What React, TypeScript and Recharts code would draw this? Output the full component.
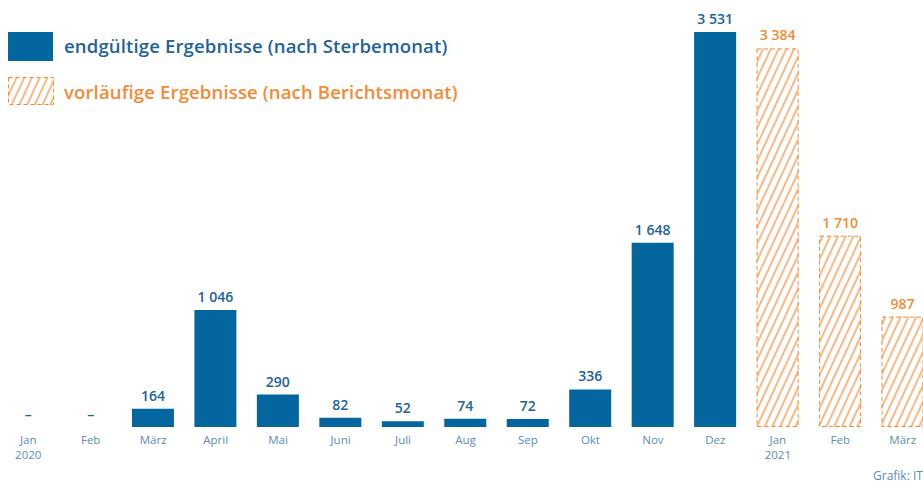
import { BarChart, Bar, XAxis, YAxis, LabelList } from "recharts";

const categories = ["Jan\n2020", "Feb", "März", "April", "Mai", "Juni", "Juli", "Aug", "Sep", "Okt", "Nov", "Dez", "Jan\n2021", "Feb", "März"];
const finalValues = [null, null, 164, 1046, 290, 82, 52, 74, 72, 336, 1648, 3531, null, null, null];
const provisionalValues = [null, null, null, null, null, null, null, null, null, null, null, null, 3384, 1710, 987];

const data = categories.map((c, i) => ({ cat: c, final: finalValues[i], provisional: provisionalValues[i] }));

const BLUE = "#04669E";
const ORANGE = "#F58A34";
const FONT = "'Open Sans', Roboto, sans-serif";

const fmt = (n: number) => String(n).replace(/\B(?=(\d{3})+(?!\d))/g, " ");

function Tick(props: any) {
  const { x, y, payload } = props;
  const lines = String(payload.value).split("\n");
  const i = payload.index;
  const empty = finalValues[i] == null && provisionalValues[i] == null;
  return (
    <g>
      {empty && (
        <text x={x} y={y - 16} textAnchor="middle" fill="#1D639A" fontSize={14} fontWeight={600} fontFamily={FONT}>–</text>
      )}
      {lines.map((l, k) => (
        <text key={k} x={x} y={y + 9 + k * 15} textAnchor="middle" fill="#5A8DB8" fontSize={11.5} fontFamily={FONT}>{l}</text>
      ))}
    </g>
  );
}

function HatchBar(props: any) {
  const { x, y, width, height } = props;
  if (!height || height <= 0) return null;
  return (
    <g>
      <rect x={x} y={y} width={width} height={height} fill="url(#hatch)" />
      <rect x={x + 0.5} y={y + 0.5} width={width - 1} height={height - 1} fill="none" stroke={ORANGE} strokeWidth={1} strokeDasharray="4 3" />
    </g>
  );
}

function makeLabel(color: string) {
  return (props: any) => {
    const { x, y, width, value } = props;
    if (value == null) return null;
    return (
      <text x={x + width / 2} y={y - 8} textAnchor="middle" fill={color} fontSize={14} fontWeight={600} fontFamily={FONT}>
        {fmt(Number(value))}
      </text>
    );
  };
}

export default function App() {
  return (
    <div style={{ position: "fixed", left: 0, top: 0, width: 923, height: 481, overflow: "hidden", background: "#fff", fontFamily: FONT }}>
      <div style={{ position: "absolute", left: -3, top: 0 }}>
        <BarChart width={937} height={481} data={data} margin={{ top: 32, right: 0, bottom: 0, left: 0 }}>
          <defs>
            <pattern id="hatch" patternUnits="userSpaceOnUse" width={7} height={7} patternTransform="rotate(25)">
              <line x1={1} y1={0} x2={1} y2={7} stroke={ORANGE} strokeWidth={1.2} />
            </pattern>
          </defs>
          <XAxis dataKey="cat" axisLine={false} tickLine={false} height={54} interval={0} tick={<Tick />} />
          <YAxis hide domain={[0, 3531]} width={0} />
          <Bar dataKey="final" stackId="s" fill={BLUE} barSize={42} isAnimationActive={false}>
            <LabelList dataKey="final" content={makeLabel("#1D639A")} />
          </Bar>
          <Bar dataKey="provisional" stackId="s" barSize={42} shape={<HatchBar />} isAnimationActive={false}>
            <LabelList dataKey="provisional" content={makeLabel(ORANGE)} />
          </Bar>
        </BarChart>
      </div>
      <div style={{ position: "absolute", left: 8, top: 32, width: 45, height: 29, background: BLUE }} />
      <div style={{ position: "absolute", left: 64, top: 34, fontSize: 18.5, letterSpacing: 0.15, fontWeight: 600, color: "#1D639A", lineHeight: "24px", whiteSpace: "nowrap" }}>
        endgültige Ergebnisse (nach Sterbemonat)
      </div>
      <svg style={{ position: "absolute", left: 8, top: 77 }} width={46} height={28}>
        <rect x={0} y={0} width={46} height={28} fill="url(#hatch)" />
        <rect x={0.5} y={0.5} width={45} height={27} fill="none" stroke={ORANGE} strokeDasharray="4 3" />
      </svg>
      <div style={{ position: "absolute", left: 64, top: 80, fontSize: 18.5, letterSpacing: 0.15, fontWeight: 600, color: ORANGE, lineHeight: "24px", whiteSpace: "nowrap" }}>
        vorläufige Ergebnisse (nach Berichtsmonat)
      </div>
      <div style={{ position: "absolute", left: 873, top: 467, fontSize: 12, color: "#5A8DB8", whiteSpace: "nowrap" }}>
        Grafik: IT.NRW
      </div>
    </div>
  );
}
